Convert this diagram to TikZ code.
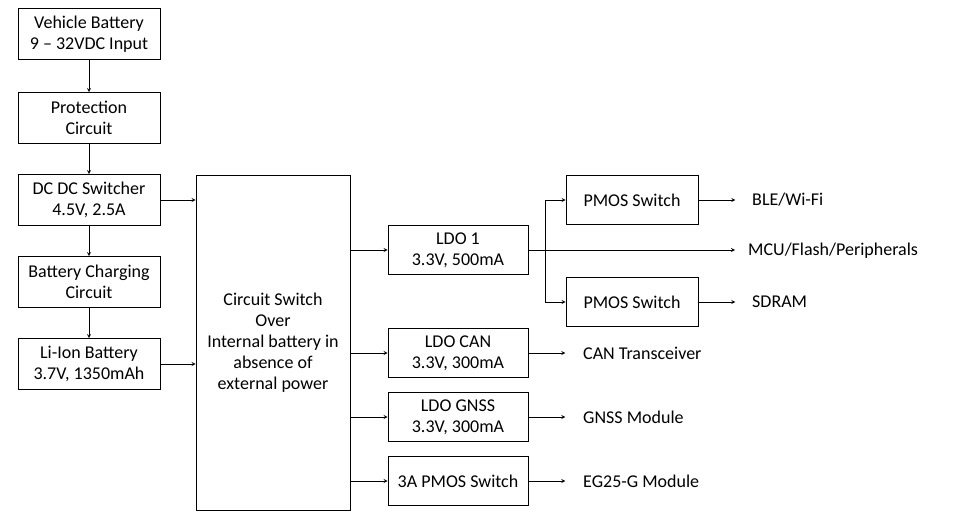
\documentclass[tikz,border=0pt]{standalone}
\usepackage{fontspec}
\setmainfont{Carlito}
\usetikzlibrary{positioning,calc}

\begin{document}
\begin{tikzpicture}[x=1pt,y=-1pt,
	block/.style={rectangle,draw,thick,inner sep=0pt,minimum width=142pt,minimum height=51pt,align=center},
	ldo/.style={rectangle,draw,thick,inner sep=0pt,minimum width=140pt,minimum height=49pt,align=center},
	label/.style={anchor=west,inner sep=0pt},
	paths/.style={->,thick,>=stealth},
	font=\fontsize{18}{21}\selectfont
	]
\useasboundingbox (0,0) rectangle (958,524);
\node[block](vb) at (89,34) {Vehicle Battery\\9 -- 32VDC Input};
\node[block](pc) at (89,118) {Protection\\Circuit};
\node[block](dc) at (89,200) {DC DC Switcher\\4.5V, 2.5A};
\node[block](bc) at (89,282) {Battery Charging\\Circuit};
\node[block](li) at (89,364) {Li-Ion Battery\\3.7V, 1350mAh};

\node[rectangle,draw,thick,minimum width=154pt,minimum height=335pt,align=center](cs) at (273,342.5) {Circuit Switch\\Over\\Internal battery in\\absence of\\external power};

\node[ldo](l1) at (458,250) {LDO 1\\3.3V, 500mA};
\node[ldo](lc) at (458,353) {LDO CAN\\3.3V, 300mA};
\node[ldo](lg) at (458,417) {LDO GNSS\\3.3V, 300mA};
\node[ldo](lp) at (458,481) {3A PMOS Switch};

\node[ldo,minimum width=132pt](p1) at (632,200) {PMOS Switch};
\node[ldo,minimum width=132pt](p2) at (632,302) {PMOS Switch};

\node[label](ble) at (752,200) {BLE/Wi-Fi};
\node[label](mcu) at (748,251) {MCU/Flash/Peripherals};
\node[label](sd) at (752,302) {SDRAM};
\node[label](can) at (583,353) {CAN Transceiver};
\node[label](gn) at (583,417) {GNSS Module};
\node[label](eg) at (583,481) {EG25-G Module};

\coordinate (br) at (545,250);

\draw[paths](vb) -- (pc);
\draw[paths](pc) -- (dc);
\draw[paths](dc) -- (bc);
\draw[paths](bc) -- (li);
\draw[paths](dc.east) -- (dc.east -| cs.west);
\draw[paths](li.east) -- (li.east -| cs.west);

\draw[paths](l1.west -| cs.east) -- (l1.west);
\draw[paths](lc.west -| cs.east) -- (lc.west);
\draw[paths](lg.west -| cs.east) -- (lg.west);
\draw[paths](lp.west -| cs.east) -- (lp.west);

\draw[thick](l1.east) -- (br);
\draw[paths](br) -- ++(190,0);
\draw[paths](br) |- (p1.west);
\draw[paths](br) |- (p2.west);
\draw[paths](p1.east) -- ++(37,0);
\draw[paths](p2.east) -- ++(37,0);
\draw[paths](lc.east) -- ++(37,0);
\draw[paths](lg.east) -- ++(37,0);
\draw[paths](lp.east) -- ++(37,0);
\end{tikzpicture}
\end{document}
